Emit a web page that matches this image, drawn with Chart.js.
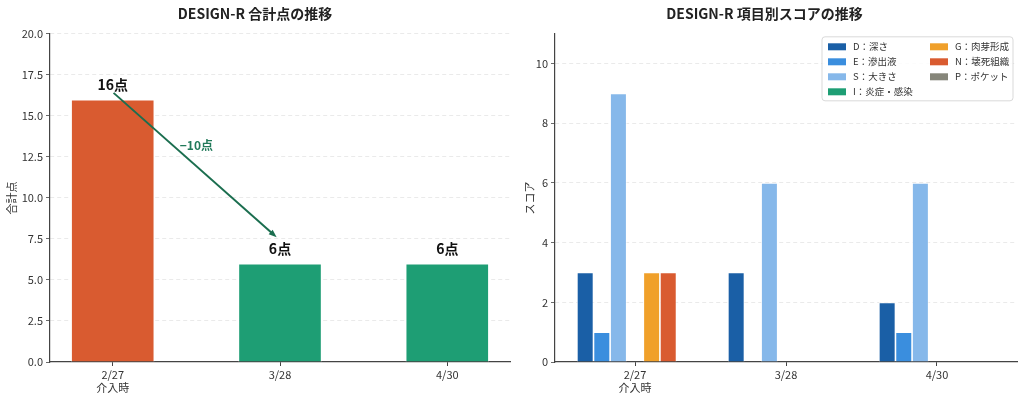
<!DOCTYPE html>
<html>
<head>
<meta charset="utf-8">
<script src="https://cdn.jsdelivr.net/npm/chart.js@4"></script>
<style>
  body { margin: 0; background: #fff; }
  #wrap { width: 1024px; height: 400px; display: flex; }
  .box { width: 512px; height: 400px; position: relative; }
</style>
</head>
<body>
<div id="wrap">
  <div class="box"><canvas id="totalChart"></canvas></div>
  <div class="box"><canvas id="itemChart"></canvas></div>
</div>
<script>
// 日付（x軸）
const dates = [['2/27', '介入時'], '3/28', '4/30'];

// 合計点
const totals = [16, 6, 6];
const totalColors = ['#d95b30', '#1e9e74', '#1e9e74'];
const totalTicks = [0, 2.5, 5, 7.5, 10, 12.5, 15, 17.5, 20];
const totalTickLabels = ['0.0', '2.5', '5.0', '7.5', '10.0', '12.5', '15.0', '17.5', '20.0'];
const changeLabel = '\u221210点';

// 項目別スコア
const itemNames = ['D：深さ', 'E：滲出液', 'S：大きさ', 'I：炎症・感染', 'G：肉芽形成', 'N：壊死組織', 'P：ポケット'];
const itemColors = ['#1a5fa6', '#3a8ede', '#86b8ea', '#1e9e74', '#f0a02a', '#d95b30', '#86867a'];
const scoreD = [3, 3, 2];
const scoreE = [1, 0, 1];
const scoreS = [9, 6, 6];
const scoreI = [0, 0, 0];
const scoreG = [3, 0, 0];
const scoreN = [3, 0, 0];
const scoreP = [0, 0, 0];
const scoreTicks = [0, 2, 4, 6, 8, 10];

const FONT = "'Noto Sans CJK JP', 'Noto Sans', sans-serif";
const AXIS = '#444';
const TEXT = '#333';

function toPoints(arr) {
  return arr.map((v, i) => ({ x: i, y: v }));
}

// 共通の軸設定
function xAxis(min, max) {
  return {
    type: 'linear',
    min: min,
    max: max,
    offset: false,
    afterBuildTicks: (s) => { s.ticks = dates.map((d, i) => ({ value: i })); },
    afterFit: (s) => { s.height = 38; },
    ticks: {
      callback: (v) => dates[v],
      maxRotation: 0,
      autoSkip: false,
      padding: 2,
      color: TEXT,
      font: { family: FONT, size: 11 }
    },
    grid: { drawOnChartArea: false, drawTicks: true, tickLength: 4, tickColor: AXIS, offset: false },
    border: { display: true, color: AXIS, width: 1.2 }
  };
}

function yAxis(max, ticks, labels, width, title, titlePad) {
  return {
    min: 0,
    max: max,
    afterBuildTicks: (s) => { s.ticks = ticks.map(v => ({ value: v })); },
    afterFit: (s) => { s.width = width; },
    ticks: {
      callback: (v) => labels ? labels[ticks.indexOf(v)] : String(v),
      padding: 3,
      color: TEXT,
      font: { family: FONT, size: 11 }
    },
    grid: {
      color: (ctx) => ctx.tick && ctx.tick.value === 0 ? 'rgba(0,0,0,0)' : '#e4e4e4',
      lineWidth: 0.8,
      tickLength: 4,
      tickColor: AXIS,
      tickBorderDash: []
    },
    border: { display: true, color: AXIS, width: 1.2, dash: [4, 3] },
    title: {
      display: true,
      text: title,
      color: TEXT,
      padding: { top: titlePad, bottom: 0 },
      font: { family: FONT, size: 11 }
    }
  };
}

function chartTitle(text) {
  return {
    display: true,
    text: text,
    color: '#222',
    padding: { top: 5, bottom: 12 },
    font: { family: FONT, size: 14, weight: 'bold' }
  };
}

// 合計点グラフのラベルと矢印
const totalAnnotations = {
  id: 'totalAnnotations',
  afterDatasetsDraw(chart) {
    const ctx = chart.ctx;
    const xs = chart.scales.x;
    const ys = chart.scales.y;
    ctx.save();
    ctx.fillStyle = '#111';
    ctx.font = 'bold 14px ' + FONT;
    ctx.textAlign = 'center';
    ctx.textBaseline = 'bottom';
    totals.forEach((v, i) => {
      ctx.fillText(v + '点', xs.getPixelForValue(i), ys.getPixelForValue(v + 0.45));
    });

    // 矢印
    const x1 = xs.getPixelForValue(0.005), y1 = ys.getPixelForValue(totals[0] + 0.4);
    const x2 = xs.getPixelForValue(0.98), y2 = ys.getPixelForValue(totals[1] + 1.6);
    const ang = Math.atan2(y2 - y1, x2 - x1);
    const head = 8;
    ctx.strokeStyle = '#1b6e4f';
    ctx.fillStyle = '#1b6e4f';
    ctx.lineWidth = 2;
    ctx.beginPath();
    ctx.moveTo(x1, y1);
    ctx.lineTo(x2 - Math.cos(ang) * head * 0.8, y2 - Math.sin(ang) * head * 0.8);
    ctx.stroke();
    ctx.beginPath();
    ctx.moveTo(x2, y2);
    ctx.lineTo(x2 - head * Math.cos(ang) + 3 * Math.sin(ang), y2 - head * Math.sin(ang) - 3 * Math.cos(ang));
    ctx.lineTo(x2 - head * Math.cos(ang) - 3 * Math.sin(ang), y2 - head * Math.sin(ang) + 3 * Math.cos(ang));
    ctx.closePath();
    ctx.fill();

    ctx.fillStyle = '#217a5a';
    ctx.font = 'bold 12px ' + FONT;
    ctx.textBaseline = 'middle';
    ctx.fillText(changeLabel, xs.getPixelForValue(0.5), ys.getPixelForValue(13.2));
    ctx.restore();
  }
};

// 2列の凡例（列方向に並べる）
const itemLegend = {
  id: 'itemLegend',
  afterDraw(chart) {
    const ctx = chart.ctx;
    const area = chart.chartArea;
    const w = 191, h = 64;
    const left = area.right - 4 - w;
    const top = area.top + 3;
    ctx.save();
    ctx.fillStyle = 'rgba(255,255,255,0.85)';
    ctx.strokeStyle = '#cfcfcf';
    ctx.lineWidth = 0.8;
    ctx.beginPath();
    ctx.roundRect(left, top, w, h, 3);
    ctx.fill();
    ctx.stroke();
    ctx.font = '9.5px ' + FONT;
    ctx.textBaseline = 'middle';
    ctx.textAlign = 'left';
    chart.data.datasets.forEach((ds, i) => {
      const col = i < 4 ? 0 : 1;
      const row = i < 4 ? i : i - 4;
      const sx = left + 6 + col * 102;
      const sy = top + 10 + row * 15;
      ctx.fillStyle = ds.backgroundColor;
      ctx.fillRect(sx, sy - 3.5, 18, 7);
      ctx.fillStyle = TEXT;
      ctx.fillText(ds.label, sx + 25, sy);
    });
    ctx.restore();
  }
};

// 合計点の推移
new Chart(document.getElementById('totalChart'), {
  type: 'bar',
  data: {
    datasets: [{
      label: '合計点',
      data: toPoints(totals),
      backgroundColor: totalColors,
      borderColor: '#ffffff',
      borderWidth: 1,
      barPercentage: 0.5,
      categoryPercentage: 1
    }]
  },
  options: {
    responsive: true,
    maintainAspectRatio: false,
    animation: false,
    layout: { padding: { left: 0, right: 2, top: 0, bottom: 0 } },
    plugins: {
      legend: { display: false },
      tooltip: { enabled: false },
      title: chartTitle('DESIGN-R 合計点の推移')
    },
    scales: {
      x: xAxis(-0.375, 2.375),
      y: yAxis(20, totalTicks, totalTickLabels, 50, '合計点', 5)
    }
  },
  plugins: [totalAnnotations]
});

// 項目別スコアの推移
const itemSeries = [scoreD, scoreE, scoreS, scoreI, scoreG, scoreN, scoreP];
new Chart(document.getElementById('itemChart'), {
  type: 'bar',
  data: {
    datasets: itemSeries.map((s, i) => ({
      label: itemNames[i],
      data: toPoints(s),
      backgroundColor: itemColors[i],
      borderColor: '#ffffff',
      borderWidth: 0.8,
      barPercentage: 1,
      categoryPercentage: 0.77
    }))
  },
  options: {
    responsive: true,
    maintainAspectRatio: false,
    animation: false,
    layout: { padding: { left: 0, right: 7, top: 0, bottom: 0 } },
    plugins: {
      legend: { display: false },
      tooltip: { enabled: false },
      title: chartTitle('DESIGN-R 項目別スコアの推移')
    },
    scales: {
      x: xAxis(-0.53, 2.53),
      y: yAxis(11, scoreTicks, null, 43, 'スコア', 11)
    }
  },
  plugins: [itemLegend]
});
</script>
</body>
</html>
